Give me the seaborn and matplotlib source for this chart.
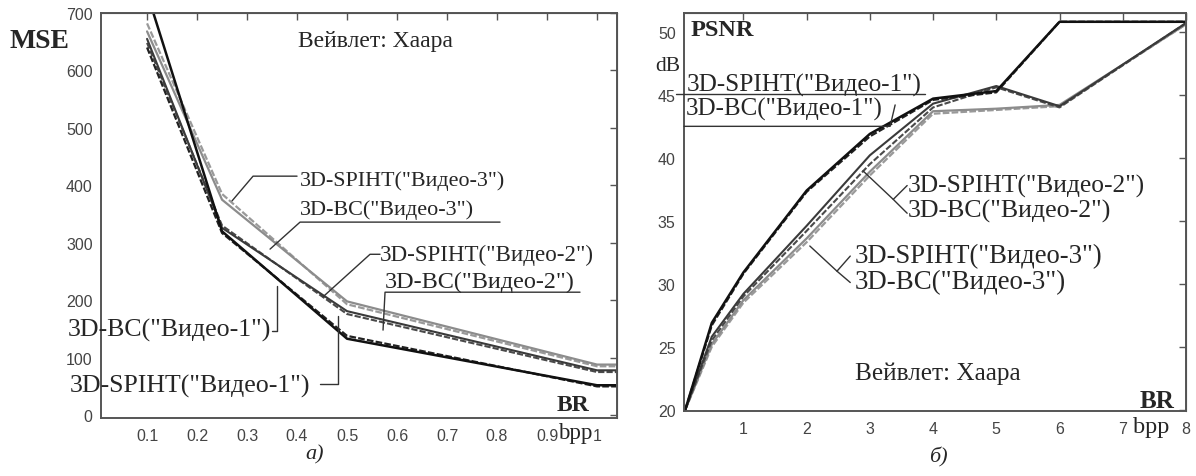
import matplotlib
matplotlib.use("Agg")
import matplotlib.pyplot as plt
import seaborn as sns
import pandas as pd

# ---- data: MSE vs bit rate (left panel)
br_mse = [0.1, 0.25, 0.5, 1.0, 1.04]
mse_spiht1 = [735, 320, 133, 52, 52]
mse_bc1 = [640, 317, 138, 50, 50]
mse_spiht2 = [655, 326, 181, 78, 78]
mse_bc2 = [648, 330, 176, 75, 75]
mse_spiht3 = [668, 375, 198, 88, 88]
mse_bc3 = [682, 385, 193, 85, 85]

# ---- data: PSNR vs bit rate (right panel)
br_psnr = [0.08, 0.5, 1, 2, 3, 4, 5, 6, 8]
psnr_spiht1 = [20, 26.9, 30.9, 37.4, 41.9, 44.7, 45.3, 50.8, 50.8]
psnr_bc1 = [20, 26.7, 30.8, 37.3, 41.7, 44.6, 45.2, 50.8, 50.8]
psnr_spiht2 = [20, 25.8, 29.2, 34.6, 40.2, 44.3, 45.7, 44.1, 50.7]
psnr_bc2 = [20, 25.5, 29.0, 34.2, 39.5, 44.0, 45.6, 44.0, 50.7]
psnr_spiht3 = [20, 25.2, 28.7, 33.6, 38.9, 43.7, 43.9, 44.2, 50.6]
psnr_bc3 = [20, 25.0, 28.5, 33.3, 38.6, 43.5, 43.8, 44.1, 50.6]

mse_xticks = [0.1, 0.2, 0.3, 0.4, 0.5, 0.6, 0.7, 0.8, 0.9, 1.0]
mse_xticklabels = ["0.1", "0.2", "0.3", "0.4", "0.5", "0.6", "0.7", "0.8", "0.9", "1"]
mse_yticks = [0, 100, 200, 300, 400, 500, 600, 700]
psnr_xticks = [1, 2, 3, 4, 5, 6, 7, 8]
psnr_yticks = [20, 25, 30, 35, 40, 45, 50]

SERIES_STYLE = {
    "spiht1": ("#111111", "-", 1.8),
    "bc1": ("#222222", (0, (3, 1)), 1.6),
    "spiht2": ("#3a3a3a", "-", 1.5),
    "bc2": ("#4a4a4a", (0, (3, 1)), 1.5),
    "spiht3": ("#8c8c8c", "-", 1.6),
    "bc3": ("#9a9a9a", (0, (3, 1)), 1.6),
}

sns.set_style("white")
plt.rcParams["font.family"] = ["Liberation Serif", "DejaVu Serif"]

SERIF = ["Liberation Serif", "DejaVu Serif"]
SANS = ["Liberation Sans", "DejaVu Sans"]
TICK_COLOR = "#444444"

fig = plt.figure(figsize=(11.96, 4.77), dpi=100)
ax1 = fig.add_axes([0.0845, 0.1216, 0.4314, 0.849])
ax2 = fig.add_axes([0.5719, 0.1363, 0.4197, 0.8344])


def draw(ax, x, series):
    for key, y in series.items():
        color, ls, lw = SERIES_STYLE[key]
        df = pd.DataFrame({"x": x, "y": y})
        sns.lineplot(data=df, x="x", y="y", ax=ax, color=color, linestyle=ls,
                     linewidth=lw, sort=False, legend=False, estimator=None)


def style_axes(ax, xticks, xlabels, yticks):
    ax.set_xlabel("")
    ax.set_ylabel("")
    ax.set_xticks(xticks)
    ax.set_xticklabels(xlabels)
    ax.set_yticks(yticks)
    for s in ax.spines.values():
        s.set_color("#555555")
        s.set_linewidth(1.4)
    ax.tick_params(axis="x", direction="in", length=5, width=1, color="#555555",
                   labelsize=11.5, labelcolor=TICK_COLOR, pad=7)
    ax.tick_params(axis="y", direction="out", length=4, width=1, color="#555555",
                   labelsize=11.5, labelcolor=TICK_COLOR, pad=2)
    for lab in ax.get_xticklabels() + ax.get_yticklabels():
        lab.set_family(SANS)
    top = ax.secondary_xaxis("top")
    top.set_xticks(xticks)
    top.tick_params(direction="in", length=5, width=1, color="#555555", labeltop=False)
    right = ax.secondary_yaxis("right")
    right.set_yticks(yticks)
    right.tick_params(direction="in", length=5, width=1, color="#555555", labelright=False)


def leader(ax, pts, lw=1.0, color="#333333"):
    xs, ys = zip(*pts)
    ax.plot(xs, ys, color=color, lw=lw, clip_on=False, zorder=5)


def label(ax, x, y, s, size, **kw):
    ax.text(x, y, s, fontsize=size, family=SERIF, ha="left", va="center",
            clip_on=False, zorder=6, **kw)


# ---- left panel: MSE
draw(ax1, br_mse, {"bc3": mse_bc3, "spiht3": mse_spiht3, "bc2": mse_bc2,
                   "spiht2": mse_spiht2, "bc1": mse_bc1, "spiht1": mse_spiht1})
ax1.set_xlim(0.008, 1.04)
ax1.set_ylim(-5, 700)
style_axes(ax1, mse_xticks, mse_xticklabels, mse_yticks)

ax1.text(-0.175, 652, "MSE", fontsize=20, fontweight="bold", family=SERIF,
         ha="left", va="center", clip_on=False)
label(ax1, 0.402, 652, "Вейвлет: Хаара", 17)
label(ax1, 0.92, 19, "BR", 17, fontweight="bold")
label(ax1, 0.922, -30, "bpp", 16.5)

label(ax1, 0.406, 409, '3D-SPIHT("Видео-3")', 15.8)
leader(ax1, [(0.40, 416), (0.312, 416), (0.27, 373)])
label(ax1, 0.406, 359, '3D-BC("Видео-3")', 15.9)
leader(ax1, [(0.806, 336), (0.406, 336), (0.346, 289)])
label(ax1, 0.566, 280, '3D-SPIHT("Видео-2")', 16.6)
leader(ax1, [(0.566, 280), (0.546, 280), (0.452, 206)])
label(ax1, 0.576, 232, '3D-BC("Видео-2")', 17.4)
leader(ax1, [(0.966, 214), (0.576, 214), (0.572, 148)])
label(ax1, -0.058, 150, '3D-BC("Видео-1")', 18.6)
leader(ax1, [(0.35, 146), (0.36, 146), (0.36, 225)])
label(ax1, -0.054, 51, '3D-SPIHT("Видео-1")', 18.6)
leader(ax1, [(0.446, 54), (0.482, 54), (0.482, 172)])

# ---- right panel: PSNR
draw(ax2, br_psnr, {"bc3": psnr_bc3, "spiht3": psnr_spiht3, "bc2": psnr_bc2,
                    "spiht2": psnr_spiht2, "bc1": psnr_bc1, "spiht1": psnr_spiht1})
ax2.set_xlim(0.06, 8)
ax2.set_ylim(19.9, 51.5)
style_axes(ax2, psnr_xticks, [str(t) for t in psnr_xticks], psnr_yticks)

ax2.text(0.16, 50.2, "PSNR", fontsize=17.5, fontweight="bold", family=SERIF,
         ha="left", va="center", clip_on=False)
label(ax2, -0.39, 47.3, "dB", 15.5)
label(ax2, 2.76, 22.9, "Вейвлет: Хаара", 18.2)
label(ax2, 7.27, 20.7, "BR", 18, fontweight="bold")
label(ax2, 7.16, 18.7, "bpp", 17.5)

label(ax2, 0.095, 45.8, '3D-SPIHT("Видео-1")', 18.2)
leader(ax2, [(-0.06, 45.1), (3.87, 45.1)])
label(ax2, 0.095, 43.9, '3D-BC("Видео-1")', 18)
leader(ax2, [(0.06, 42.5), (3.32, 42.5), (3.4, 44.2)])
label(ax2, 3.6, 37.8, '3D-SPIHT("Видео-2")', 18.4)
label(ax2, 3.6, 35.8, '3D-BC("Видео-2")', 18.6)
leader(ax2, [(3.59, 37.8), (3.37, 36.7), (3.59, 35.6)])
leader(ax2, [(3.37, 36.7), (2.89, 38.97)])
label(ax2, 2.76, 32.2, '3D-SPIHT("Видео-3")', 19.2)
label(ax2, 2.76, 30.2, '3D-BC("Видео-3")', 19.4)
leader(ax2, [(2.69, 32.2), (2.48, 31.0), (2.69, 30.1)])
leader(ax2, [(2.48, 31.0), (2.05, 33.0)])

# captions
fig.text(315 / 1196, 1 - 455 / 477, "а)", fontsize=16, style="italic", family=SERIF,
         ha="center", va="center")
fig.text(938 / 1196, 1 - 457 / 477, "б)", fontsize=16, style="italic", family=SERIF,
         ha="center", va="center")

fig.savefig("out.png", dpi=100)
plt.close(fig)
